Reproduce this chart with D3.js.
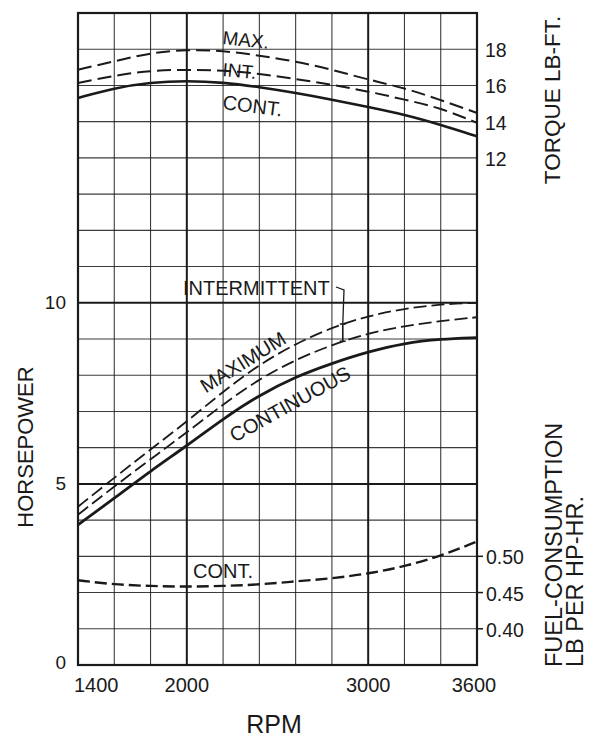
<!DOCTYPE html>
<html>
<head>
<meta charset="utf-8">
<script src="https://cdn.jsdelivr.net/npm/d3@7"></script>
<style>
  html, body { margin: 0; padding: 0; background: #fff; }
  svg text { font-family: "Liberation Sans", Arial, Helvetica, sans-serif; fill: #1a1a1a; }
</style>
</head>
<body>
<svg id="chart" width="593" height="738"></svg>
<script>
// ---- data ----
const rpm        = [1400, 1600, 1800, 2000, 2200, 2400, 2600, 2800, 3000, 3200, 3400, 3600];
const hpMax      = [4.37, 5.17, 5.95, 6.72, 7.55, 8.3, 8.87, 9.32, 9.64, 9.84, 9.96, 10.0];
const hpInt      = [4.15, 4.93, 5.68, 6.42, 7.2, 7.9, 8.43, 8.84, 9.16, 9.36, 9.5, 9.6];
const hpCont     = [3.87, 4.6, 5.36, 6.05, 6.8, 7.45, 7.96, 8.33, 8.65, 8.89, 9.0, 9.04];
const torqueMax  = [16.87, 17.33, 17.8, 17.98, 17.92, 17.65, 17.33, 16.87, 16.32, 15.86, 15.2, 14.48];
const torqueInt  = [16.14, 16.54, 16.83, 16.87, 16.83, 16.65, 16.36, 16.04, 15.67, 15.22, 14.76, 13.93];
const torqueCont = [15.31, 15.86, 16.17, 16.26, 16.17, 15.91, 15.59, 15.22, 14.81, 14.39, 13.83, 13.19];
const fuelCont   = [0.467, 0.461, 0.459, 0.458, 0.459, 0.461, 0.4655, 0.4695, 0.476, 0.486, 0.5005, 0.5205];

const rpmGrid      = [1400, 1600, 1800, 2000, 2200, 2400, 2600, 2800, 3000, 3200, 3400, 3600];
const rpmHeavy     = [2000, 3000];
const rpmTickLabels = [1400, 2000, 3000, 3600];
const hpGrid       = [0,1,2,3,4,5,6,7,8,9,10,11,12,13,14,15,16,17,18];
const hpHeavy      = [5, 10];
const hpTickLabels = [0, 5, 10];
const torqueTicks  = [12, 14, 16, 18];
const fuelTicks    = [0.40, 0.45, 0.50];

// ---- scales ----
const svg = d3.select("#chart");
const x  = d3.scaleLinear().domain([1400, 3600]).range([78, 477]);
const y  = d3.scaleLinear().domain([0, 18]).range([665, 13]);
const yT = d3.scaleLinear().domain([12, 18]).range([y(14), y(17)]);
const yF = d3.scaleLinear().domain([0.40, 0.50]).range([y(1), y(3)]);
const ink = "#1a1a1a";

// ---- grid ----
const g = svg.append("g");
g.selectAll("line.v").data(rpmGrid).join("line")
  .attr("x1", d => x(d)).attr("x2", d => x(d))
  .attr("y1", y(0)).attr("y2", y(18))
  .attr("stroke", ink)
  .attr("stroke-width", d => rpmHeavy.includes(d) ? 2 : 1.1)
  .attr("stroke-opacity", d => rpmHeavy.includes(d) ? 1 : 0.85);
g.selectAll("line.h").data(hpGrid).join("line")
  .attr("x1", x(1400)).attr("x2", x(3600))
  .attr("y1", d => y(d)).attr("y2", d => y(d))
  .attr("stroke", ink)
  .attr("stroke-width", d => hpHeavy.includes(d) ? 2 : 1.1)
  .attr("stroke-opacity", d => hpHeavy.includes(d) ? 1 : 0.85);

// border
svg.append("rect")
  .attr("x", x(1400)).attr("y", y(18))
  .attr("width", x(3600) - x(1400)).attr("height", y(0) - y(18))
  .attr("fill", "none").attr("stroke", ink).attr("stroke-width", 2.2);

// ---- curves ----
const lineHP = d3.line().x((d, i) => x(rpm[i])).y(d => y(d)).curve(d3.curveBasis);
const lineT  = d3.line().x((d, i) => x(rpm[i])).y(d => yT(d)).curve(d3.curveBasis);
const lineF  = d3.line().x((d, i) => x(rpm[i])).y(d => yF(d)).curve(d3.curveBasis);

function path(gen, data, width, dash) {
  svg.append("path").attr("d", gen(data))
    .attr("fill", "none").attr("stroke", ink)
    .attr("stroke-width", width)
    .attr("stroke-dasharray", dash || null);
}
path(lineT, torqueMax, 2, "14,6");
path(lineT, torqueInt, 2, "14,6");
path(lineT, torqueCont, 2.6);
path(lineHP, hpMax, 1.8, "13,5");
path(lineHP, hpInt, 1.8, "13,5");
path(lineHP, hpCont, 2.8);
path(lineF, fuelCont, 2.4, "12,5");

// ---- axis labels ----
svg.selectAll("text.hp").data(hpTickLabels).join("text")
  .attr("x", 66).attr("y", d => y(d) + (d === 0 ? -3 : 0))
  .attr("text-anchor", "end").attr("dominant-baseline", "central")
  .attr("font-size", 19).text(d => d);

svg.selectAll("text.rpm").data(rpmTickLabels).join("text")
  .attr("x", d => d === 1400 ? x(d) - 4 : x(d) - (d === 3600 ? 3 : 0))
  .attr("y", 692)
  .attr("text-anchor", d => d === 1400 ? "start" : "middle")
  .attr("font-size", 20).text(d => d);

svg.selectAll("text.tq").data(torqueTicks).join("text")
  .attr("x", 485).attr("y", d => yT(d) + 1)
  .attr("dominant-baseline", "central")
  .attr("font-size", 19.5).text(d => d);

svg.selectAll("line.ft").data(fuelTicks).join("line")
  .attr("x1", x(3600)).attr("x2", x(3600) + 6)
  .attr("y1", d => yF(d)).attr("y2", d => yF(d))
  .attr("stroke", ink).attr("stroke-width", 1.5);
svg.selectAll("text.fu").data(fuelTicks).join("text")
  .attr("x", 486).attr("y", d => yF(d) + 1)
  .attr("dominant-baseline", "central")
  .attr("font-size", 19.5).text(d => d.toFixed(2));

svg.append("text").attr("x", 274).attr("y", 733)
  .attr("text-anchor", "middle").attr("font-size", 25).text("RPM");
svg.append("text").attr("transform", "translate(33,447) rotate(-90)")
  .attr("text-anchor", "middle").attr("font-size", 22).text("HORSEPOWER");
svg.append("text").attr("transform", "translate(560,100) rotate(-90)")
  .attr("text-anchor", "middle").attr("font-size", 22.5).text("TORQUE LB-FT.");
svg.append("text").attr("transform", "translate(562,667) rotate(-90)")
  .attr("font-size", 23.5).text("FUEL-CONSUMPTION");
svg.append("text").attr("transform", "translate(583,667) rotate(-90)")
  .attr("font-size", 23.5).text("LB PER HP-HR.");

// ---- in-plot annotations ----
function note(txt, px, py, ang, size) {
  svg.append("text").attr("transform", `translate(${px},${py}) rotate(${ang})`)
    .attr("font-size", size).text(txt);
}
note("MAX.", 222, 44, 6, 19);
note("INT.", 222, 76, 5, 19);
note("CONT.", 222, 109, 7, 20);
note("CONT.", 193, 578, 0, 20);
note("INTERMITTENT", 183, 295, 0, 20);

svg.append("text").attr("transform", "translate(243,362) rotate(-32)")
  .attr("text-anchor", "middle").attr("dominant-baseline", "central")
  .attr("font-size", 20).text("MAXIMUM");
svg.append("text").attr("transform", "translate(290,404) rotate(-29)")
  .attr("text-anchor", "middle").attr("dominant-baseline", "central")
  .attr("font-size", 20).text("CONTINUOUS");

// leader from INTERMITTENT to the gap between max and int curves
const leadRpm = 2860;
const yMaxAt = y(d3.scaleLinear().domain(rpm).range(hpMax)(leadRpm));
const yIntAt = y(d3.scaleLinear().domain(rpm).range(hpInt)(leadRpm));
const xl = x(leadRpm);
svg.append("path")
  .attr("d", `M336,287 L344,290 L${xl},${yMaxAt}`)
  .attr("fill", "none").attr("stroke", ink).attr("stroke-width", 1.3);
svg.append("path")
  .attr("d", `M${xl},${yMaxAt} L${xl},${yIntAt} M${xl-3},${yMaxAt} L${xl+3},${yMaxAt} M${xl-3},${yIntAt} L${xl+3},${yIntAt}`)
  .attr("fill", "none").attr("stroke", ink).attr("stroke-width", 1.6);
</script>
</body>
</html>
